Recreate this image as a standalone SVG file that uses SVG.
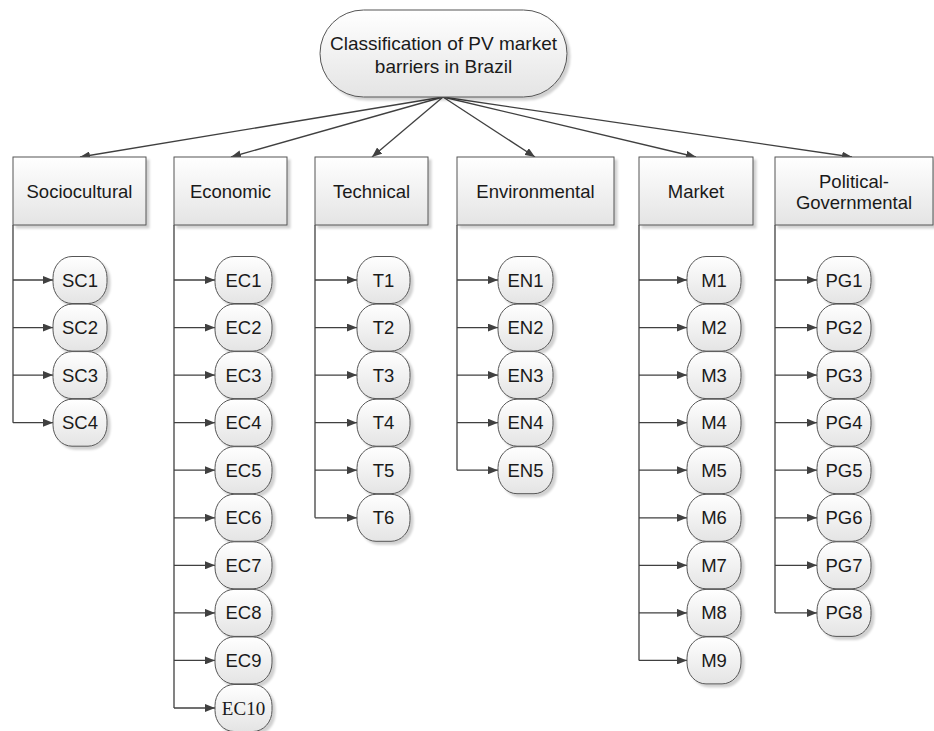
<svg xmlns="http://www.w3.org/2000/svg" width="934" height="731" viewBox="0 0 934 731">
<defs>
<linearGradient id="g" x1="0" y1="0" x2="0" y2="1">
<stop offset="0" stop-color="#ffffff"/>
<stop offset="1" stop-color="#e4e4e4"/>
</linearGradient>
<marker id="ah" viewBox="0 0 10 8" refX="10" refY="4" markerWidth="10" markerHeight="8" markerUnits="userSpaceOnUse" orient="auto">
<path d="M0,0 L10,4 L0,8 z" fill="#404040"/>
</marker>
<filter id="sh" x="-10%" y="-10%" width="130%" height="130%">
<feDropShadow dx="3" dy="3" stdDeviation="1.2" flood-color="#000" flood-opacity="0.18"/>
</filter>
</defs>
<style>
.box{fill:url(#g);stroke:#555;stroke-width:1;filter:url(#sh)}
.t{font-family:"Liberation Sans",Arial,sans-serif;font-size:18.5px;fill:#1a1a1a;text-anchor:middle}
.ts{font-family:"Liberation Serif","Times New Roman",serif;font-size:19px;fill:#1a1a1a;text-anchor:middle}
.c{stroke:#404040;stroke-width:1.3;fill:none}
.a{stroke:#404040;stroke-width:1.3;fill:none;marker-end:url(#ah)}
</style>
<rect width="934" height="731" fill="#fff"/>

<g id="connectors">
<line class="a" x1="443" y1="97" x2="80" y2="157"/>
<line class="a" x1="443" y1="97" x2="231" y2="157"/>
<line class="a" x1="443" y1="97" x2="372" y2="157"/>
<line class="a" x1="443" y1="97" x2="535" y2="157"/>
<line class="a" x1="443" y1="97" x2="696" y2="157"/>
<line class="a" x1="443" y1="97" x2="852" y2="157"/>
<!-- Sociocultural -->
<line class="c" x1="13" y1="225" x2="13" y2="422.7"/>
<line class="a" x1="13" y1="280" x2="53" y2="280"/>
<line class="a" x1="13" y1="327.6" x2="53" y2="327.6"/>
<line class="a" x1="13" y1="375.1" x2="53" y2="375.1"/>
<line class="a" x1="13" y1="422.7" x2="53" y2="422.7"/>
<!-- Economic -->
<line class="c" x1="174" y1="225" x2="174" y2="708"/>
<line class="a" x1="174" y1="280" x2="215" y2="280"/>
<line class="a" x1="174" y1="327.6" x2="215" y2="327.6"/>
<line class="a" x1="174" y1="375.1" x2="215" y2="375.1"/>
<line class="a" x1="174" y1="422.7" x2="215" y2="422.7"/>
<line class="a" x1="174" y1="470.2" x2="215" y2="470.2"/>
<line class="a" x1="174" y1="517.8" x2="215" y2="517.8"/>
<line class="a" x1="174" y1="565.3" x2="215" y2="565.3"/>
<line class="a" x1="174" y1="612.9" x2="215" y2="612.9"/>
<line class="a" x1="174" y1="660.4" x2="215" y2="660.4"/>
<line class="a" x1="174" y1="708" x2="215" y2="708"/>
<!-- Technical -->
<line class="c" x1="315" y1="225" x2="315" y2="517.8"/>
<line class="a" x1="315" y1="280" x2="357" y2="280"/>
<line class="a" x1="315" y1="327.6" x2="357" y2="327.6"/>
<line class="a" x1="315" y1="375.1" x2="357" y2="375.1"/>
<line class="a" x1="315" y1="422.7" x2="357" y2="422.7"/>
<line class="a" x1="315" y1="470.2" x2="357" y2="470.2"/>
<line class="a" x1="315" y1="517.8" x2="357" y2="517.8"/>
<!-- Environmental -->
<line class="c" x1="457" y1="225" x2="457" y2="470.2"/>
<line class="a" x1="457" y1="280" x2="498" y2="280"/>
<line class="a" x1="457" y1="327.6" x2="498" y2="327.6"/>
<line class="a" x1="457" y1="375.1" x2="498" y2="375.1"/>
<line class="a" x1="457" y1="422.7" x2="498" y2="422.7"/>
<line class="a" x1="457" y1="470.2" x2="498" y2="470.2"/>
<!-- Market -->
<line class="c" x1="639" y1="225" x2="639" y2="660.4"/>
<line class="a" x1="639" y1="280" x2="687" y2="280"/>
<line class="a" x1="639" y1="327.6" x2="687" y2="327.6"/>
<line class="a" x1="639" y1="375.1" x2="687" y2="375.1"/>
<line class="a" x1="639" y1="422.7" x2="687" y2="422.7"/>
<line class="a" x1="639" y1="470.2" x2="687" y2="470.2"/>
<line class="a" x1="639" y1="517.8" x2="687" y2="517.8"/>
<line class="a" x1="639" y1="565.3" x2="687" y2="565.3"/>
<line class="a" x1="639" y1="612.9" x2="687" y2="612.9"/>
<line class="a" x1="639" y1="660.4" x2="687" y2="660.4"/>
<!-- Political-Governmental -->
<line class="c" x1="775" y1="225" x2="775" y2="612.9"/>
<line class="a" x1="775" y1="280" x2="817" y2="280"/>
<line class="a" x1="775" y1="327.6" x2="817" y2="327.6"/>
<line class="a" x1="775" y1="375.1" x2="817" y2="375.1"/>
<line class="a" x1="775" y1="422.7" x2="817" y2="422.7"/>
<line class="a" x1="775" y1="470.2" x2="817" y2="470.2"/>
<line class="a" x1="775" y1="517.8" x2="817" y2="517.8"/>
<line class="a" x1="775" y1="565.3" x2="817" y2="565.3"/>
<line class="a" x1="775" y1="612.9" x2="817" y2="612.9"/>
</g>

<g id="root">
<rect class="box" x="320" y="10" width="247" height="87" rx="43.5" ry="43.5"/>
<text class="t" x="443.5" y="50" style="font-size:19px">Classification of PV market</text>
<text class="t" x="443.5" y="73" style="font-size:19px">barriers in Brazil</text>
</g>

<g id="cat-sociocultural"><rect class="box" x="13" y="157" width="133" height="68"/><text class="t" x="79.5" y="198">Sociocultural</text></g>
<g id="cat-economic"><rect class="box" x="174" y="157" width="113" height="68"/><text class="t" x="230.5" y="198">Economic</text></g>
<g id="cat-technical"><rect class="box" x="315" y="157" width="113" height="68"/><text class="t" x="371.5" y="198">Technical</text></g>
<g id="cat-environmental"><rect class="box" x="457" y="157" width="157" height="68"/><text class="t" x="535.5" y="198">Environmental</text></g>
<g id="cat-market"><rect class="box" x="639" y="157" width="114" height="68"/><text class="t" x="696" y="198">Market</text></g>
<g id="cat-political"><rect class="box" x="775" y="157" width="158" height="68"/><text class="t" x="854" y="188">Political-</text><text class="t" x="854" y="209">Governmental</text></g>

<!-- Sociocultural items -->
<g id="SC1"><rect class="box" x="53" y="256.5" width="54" height="47" rx="19" ry="21"/><text class="t" x="80" y="286.5">SC1</text></g>
<g id="SC2"><rect class="box" x="53" y="304.1" width="54" height="47" rx="19" ry="21"/><text class="t" x="80" y="334.1">SC2</text></g>
<g id="SC3"><rect class="box" x="53" y="351.6" width="54" height="47" rx="19" ry="21"/><text class="t" x="80" y="381.6">SC3</text></g>
<g id="SC4"><rect class="box" x="53" y="399.2" width="54" height="47" rx="19" ry="21"/><text class="t" x="80" y="429.2">SC4</text></g>

<!-- Economic items -->
<g id="EC1"><rect class="box" x="215" y="256.5" width="57" height="47" rx="19" ry="21"/><text class="t" x="243.5" y="286.5">EC1</text></g>
<g id="EC2"><rect class="box" x="215" y="304.1" width="57" height="47" rx="19" ry="21"/><text class="t" x="243.5" y="334.1">EC2</text></g>
<g id="EC3"><rect class="box" x="215" y="351.6" width="57" height="47" rx="19" ry="21"/><text class="t" x="243.5" y="381.6">EC3</text></g>
<g id="EC4"><rect class="box" x="215" y="399.2" width="57" height="47" rx="19" ry="21"/><text class="t" x="243.5" y="429.2">EC4</text></g>
<g id="EC5"><rect class="box" x="215" y="446.7" width="57" height="47" rx="19" ry="21"/><text class="t" x="243.5" y="476.7">EC5</text></g>
<g id="EC6"><rect class="box" x="215" y="494.3" width="57" height="47" rx="19" ry="21"/><text class="t" x="243.5" y="524.3">EC6</text></g>
<g id="EC7"><rect class="box" x="215" y="541.8" width="57" height="47" rx="19" ry="21"/><text class="t" x="243.5" y="571.8">EC7</text></g>
<g id="EC8"><rect class="box" x="215" y="589.4" width="57" height="47" rx="19" ry="21"/><text class="t" x="243.5" y="619.4">EC8</text></g>
<g id="EC9"><rect class="box" x="215" y="636.9" width="57" height="47" rx="19" ry="21"/><text class="t" x="243.5" y="666.9">EC9</text></g>
<g id="EC10"><rect class="box" x="215" y="684.5" width="57" height="47" rx="19" ry="21"/><text class="ts" x="243.5" y="714.5">EC10</text></g>

<!-- Technical items -->
<g id="T1"><rect class="box" x="357" y="256.5" width="53" height="47" rx="19" ry="21"/><text class="t" x="383.5" y="286.5">T1</text></g>
<g id="T2"><rect class="box" x="357" y="304.1" width="53" height="47" rx="19" ry="21"/><text class="t" x="383.5" y="334.1">T2</text></g>
<g id="T3"><rect class="box" x="357" y="351.6" width="53" height="47" rx="19" ry="21"/><text class="t" x="383.5" y="381.6">T3</text></g>
<g id="T4"><rect class="box" x="357" y="399.2" width="53" height="47" rx="19" ry="21"/><text class="t" x="383.5" y="429.2">T4</text></g>
<g id="T5"><rect class="box" x="357" y="446.7" width="53" height="47" rx="19" ry="21"/><text class="t" x="383.5" y="476.7">T5</text></g>
<g id="T6"><rect class="box" x="357" y="494.3" width="53" height="47" rx="19" ry="21"/><text class="t" x="383.5" y="524.3">T6</text></g>

<!-- Environmental items -->
<g id="EN1"><rect class="box" x="498" y="256.5" width="55" height="47" rx="19" ry="21"/><text class="t" x="525.5" y="286.5">EN1</text></g>
<g id="EN2"><rect class="box" x="498" y="304.1" width="55" height="47" rx="19" ry="21"/><text class="t" x="525.5" y="334.1">EN2</text></g>
<g id="EN3"><rect class="box" x="498" y="351.6" width="55" height="47" rx="19" ry="21"/><text class="t" x="525.5" y="381.6">EN3</text></g>
<g id="EN4"><rect class="box" x="498" y="399.2" width="55" height="47" rx="19" ry="21"/><text class="t" x="525.5" y="429.2">EN4</text></g>
<g id="EN5"><rect class="box" x="498" y="446.7" width="55" height="47" rx="19" ry="21"/><text class="t" x="525.5" y="476.7">EN5</text></g>

<!-- Market items -->
<g id="M1"><rect class="box" x="687" y="256.5" width="54" height="47" rx="19" ry="21"/><text class="t" x="714" y="286.5">M1</text></g>
<g id="M2"><rect class="box" x="687" y="304.1" width="54" height="47" rx="19" ry="21"/><text class="t" x="714" y="334.1">M2</text></g>
<g id="M3"><rect class="box" x="687" y="351.6" width="54" height="47" rx="19" ry="21"/><text class="t" x="714" y="381.6">M3</text></g>
<g id="M4"><rect class="box" x="687" y="399.2" width="54" height="47" rx="19" ry="21"/><text class="t" x="714" y="429.2">M4</text></g>
<g id="M5"><rect class="box" x="687" y="446.7" width="54" height="47" rx="19" ry="21"/><text class="t" x="714" y="476.7">M5</text></g>
<g id="M6"><rect class="box" x="687" y="494.3" width="54" height="47" rx="19" ry="21"/><text class="t" x="714" y="524.3">M6</text></g>
<g id="M7"><rect class="box" x="687" y="541.8" width="54" height="47" rx="19" ry="21"/><text class="t" x="714" y="571.8">M7</text></g>
<g id="M8"><rect class="box" x="687" y="589.4" width="54" height="47" rx="19" ry="21"/><text class="t" x="714" y="619.4">M8</text></g>
<g id="M9"><rect class="box" x="687" y="636.9" width="54" height="47" rx="19" ry="21"/><text class="t" x="714" y="666.9">M9</text></g>

<!-- Political-Governmental items -->
<g id="PG1"><rect class="box" x="817" y="256.5" width="54" height="47" rx="19" ry="21"/><text class="t" x="844" y="286.5">PG1</text></g>
<g id="PG2"><rect class="box" x="817" y="304.1" width="54" height="47" rx="19" ry="21"/><text class="t" x="844" y="334.1">PG2</text></g>
<g id="PG3"><rect class="box" x="817" y="351.6" width="54" height="47" rx="19" ry="21"/><text class="t" x="844" y="381.6">PG3</text></g>
<g id="PG4"><rect class="box" x="817" y="399.2" width="54" height="47" rx="19" ry="21"/><text class="t" x="844" y="429.2">PG4</text></g>
<g id="PG5"><rect class="box" x="817" y="446.7" width="54" height="47" rx="19" ry="21"/><text class="t" x="844" y="476.7">PG5</text></g>
<g id="PG6"><rect class="box" x="817" y="494.3" width="54" height="47" rx="19" ry="21"/><text class="t" x="844" y="524.3">PG6</text></g>
<g id="PG7"><rect class="box" x="817" y="541.8" width="54" height="47" rx="19" ry="21"/><text class="t" x="844" y="571.8">PG7</text></g>
<g id="PG8"><rect class="box" x="817" y="589.4" width="54" height="47" rx="19" ry="21"/><text class="t" x="844" y="619.4">PG8</text></g>
</svg>
